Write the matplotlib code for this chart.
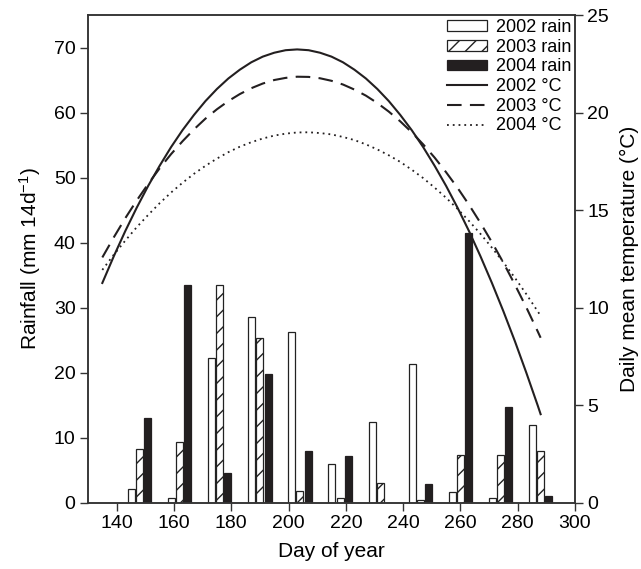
import matplotlib
matplotlib.use("Agg")
import matplotlib.pyplot as plt
import numpy as np

plt.rcParams['font.family'] = ['Liberation Sans', 'DejaVu Sans']
plt.rcParams['mathtext.default'] = 'regular'
plt.rcParams['hatch.linewidth'] = 1.0

# Rainfall (mm per 14 days), groups centred on these days
periods = [148, 162, 176, 190, 204, 218, 232, 246, 260, 274, 288]
rain_2002 = [2.1, 0.8, 22.3, 28.5, 26.3, 6.0, 12.4, 21.3, 1.7, 0.8, 12.0]
rain_2003 = [8.2, 9.4, 33.5, 25.3, 1.8, 0.8, 3.0, 0.4, 7.4, 7.4, 8.0]
rain_2004 = [13.1, 33.5, 4.5, 19.8, 7.9, 7.2, 0.0, 2.9, 41.5, 14.8, 1.0]

# Daily mean temperature (deg C)
temp_days = [135, 139, 143, 147, 151, 155, 159, 163, 167, 171, 175, 179, 183, 187,
             191, 195, 199, 203, 207, 211, 215, 219, 223, 227, 231, 235, 239, 243,
             247, 251, 255, 259, 263, 267, 271, 275, 279, 283, 287, 288]
temp_2002 = [11.27, 12.64, 13.93, 15.13, 16.25, 17.28, 18.24, 19.11, 19.89, 20.60,
             21.22, 21.76, 22.21, 22.59, 22.88, 23.08, 23.21, 23.25, 23.21, 23.08,
             22.88, 22.59, 22.21, 21.76, 21.22, 20.60, 19.89, 19.11, 18.24, 17.28,
             16.25, 15.13, 13.93, 12.64, 11.27, 9.82, 8.29, 6.67, 4.98, 4.54]
temp_2003 = [12.58, 13.61, 14.59, 15.50, 16.35, 17.15, 17.88, 18.54, 19.15, 19.70,
             20.18, 20.60, 20.96, 21.26, 21.50, 21.68, 21.79, 21.85, 21.84, 21.77,
             21.64, 21.45, 21.19, 20.88, 20.50, 20.06, 19.56, 19.00, 18.38, 17.70,
             16.95, 16.15, 15.28, 14.35, 13.36, 12.31, 11.19, 10.02, 8.78, 8.46]
temp_2004 = [11.94, 12.72, 13.44, 14.13, 14.76, 15.36, 15.91, 16.41, 16.87, 17.28,
             17.65, 17.98, 18.26, 18.49, 18.68, 18.83, 18.93, 18.99, 19.00, 18.96,
             18.89, 18.76, 18.60, 18.38, 18.12, 17.82, 17.48, 17.08, 16.65, 16.16,
             15.64, 15.07, 14.45, 13.79, 13.08, 12.33, 11.54, 10.70, 9.81, 9.59]

x_ticks = [140, 160, 180, 200, 220, 240, 260, 280, 300]
left_ticks = [0, 10, 20, 30, 40, 50, 60, 70]
right_ticks = [0, 5, 10, 15, 20, 25]

fig = plt.figure(figsize=(6.41, 5.69), dpi=100)
ax = fig.add_axes([88/641, 1-502.7/569, (575-88)/641, (502.7-15.3)/569])
ax2 = ax.twinx()

p = np.array(periods, dtype=float)
bw = 2.45
off = 2.85
b1 = ax.bar(p - off, rain_2002, width=bw, color='white', edgecolor='#222222', linewidth=0.9,
            label='2002 rain', zorder=2)
b2 = ax.bar(p, rain_2003, width=bw, color='white', edgecolor='#222222', linewidth=0.9,
            hatch='//', label='2003 rain', zorder=2)
b3 = ax.bar(p + off, rain_2004, width=bw, color='#231f20', edgecolor='#231f20', linewidth=0.9,
            label='2004 rain', zorder=2)

l1, = ax2.plot(temp_days, temp_2002, color='#231f20', lw=1.5, ls='-', label='2002 °C')
l2, = ax2.plot(temp_days, temp_2003, color='#231f20', lw=1.5, ls=(0, (7, 4)), label='2003 °C')
l3, = ax2.plot(temp_days, temp_2004, color='#231f20', lw=1.3, ls=(0, (1, 2.2)), label='2004 °C')

ax.set_xlim(130, 300)
ax.set_ylim(0, 75)
ax2.set_ylim(0, 25)
ax.set_xticks(x_ticks)
ax.set_yticks(left_ticks)
ax2.set_yticks(right_ticks)

fs = 14
for a in (ax, ax2):
    a.tick_params(labelsize=fs, length=6, width=1, color='#333333', direction='out', pad=3)
    for s in a.spines.values():
        s.set_linewidth(1.1)
        s.set_color('#333333')

ax.set_xlabel('Day of year', fontsize=15, labelpad=7)
ax.set_ylabel('Rainfall (mm 14d$^{-1}$)', fontsize=15, labelpad=8)
ax2.set_ylabel('Daily mean temperature (°C)', fontsize=15, labelpad=8)

handles = [b1, b2, b3, l1, l2, l3]
labels = [h.get_label() for h in handles]
ax2.legend(handles, labels, loc='upper right', frameon=False, fontsize=13,
           handlelength=2.2, handleheight=0.55, labelspacing=0.15, handletextpad=0.5,
           borderaxespad=0.1, borderpad=0.1)

fig.savefig('out.png', dpi=100)
